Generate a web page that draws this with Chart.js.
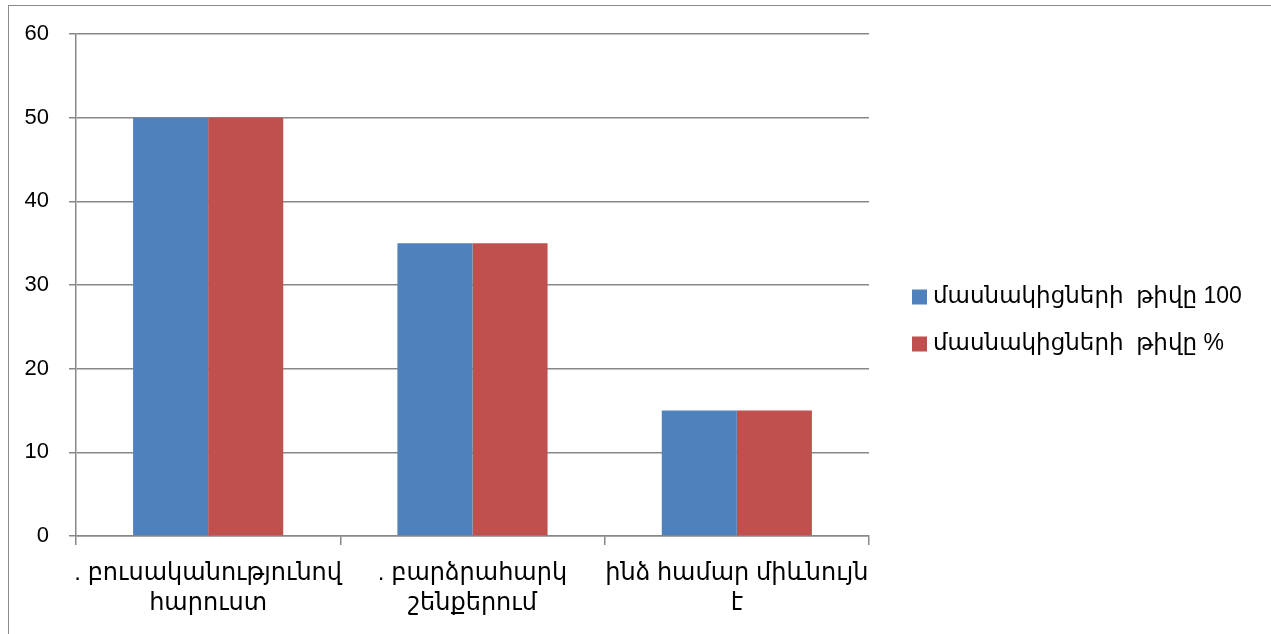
<!DOCTYPE html>
<html>
<head>
<meta charset="utf-8">
<script src="https://cdn.jsdelivr.net/npm/chart.js@4/dist/chart.umd.min.js"></script>
<style>
  html, body { margin: 0; padding: 0; background: #fff; }
  #wrap { position: relative; width: 1271px; height: 634px; overflow: hidden; }
  #frame { position: absolute; left: 8px; top: 5px; width: 1400px; height: 800px;
           border-left: 1.5px solid #8a8a8a; border-top: 1.5px solid #8a8a8a; }
  canvas { position: absolute; left: 0; top: 0; }
</style>
</head>
<body>
<div id="wrap">
  <div id="frame"></div>
  <canvas id="barChart" width="1271" height="634"></canvas>
</div>
<script>
const categories = [
    [". բուսականությունով", "հարուստ"],
    [". բարձրահարկ", "շենքերում"],
    ["ինձ համար միևնույն", "է"]
];
const seriesNames = ["մասնակիցների  թիվը 100", "մասնակիցների  թիվը %"];
const countValues = [50, 35, 15];
const percentValues = [50, 35, 15];
const yTicks = [0, 10, 20, 30, 40, 50, 60];

const fontFamily = '"Liberation Sans", "DejaVu Sans", sans-serif';
const gridColor = '#888888';

// legend drawn by hand so the plot area keeps its place
const sideLegend = {
    id: 'sideLegend',
    afterDraw(chart) {
        const ctx = chart.ctx;
        ctx.save();
        ctx.font = '23px ' + fontFamily;
        ctx.textBaseline = 'middle';
        ctx.textAlign = 'left';
        chart.data.datasets.forEach((ds, i) => {
            const cy = 297 + i * 47;
            ctx.fillStyle = ds.backgroundColor;
            ctx.fillRect(912, cy - 7.5, 15, 15);
            ctx.fillStyle = '#000';
            ctx.fillText(ds.label, 933, cy);
        });
        ctx.restore();
    }
};

const ctx = document.getElementById('barChart').getContext('2d');
new Chart(ctx, {
    type: 'bar',
    data: {
        labels: categories,
        datasets: [
            { label: seriesNames[0], data: countValues, backgroundColor: '#4F81BD' },
            { label: seriesNames[1], data: percentValues, backgroundColor: '#C0504D' }
        ]
    },
    options: {
        responsive: false,
        animation: false,
        events: [],
        layout: { padding: { left: 0, top: 34, right: 402, bottom: 0 } },
        datasets: {
            bar: { categoryPercentage: 0.568, barPercentage: 1.0 }
        },
        plugins: {
            legend: { display: false },
            tooltip: { enabled: false }
        },
        scales: {
            x: {
                afterFit(scale) { scale.height = 98; },
                grid: {
                    offset: true,
                    drawOnChartArea: false,
                    color: gridColor,
                    tickLength: 9,
                    lineWidth: 1.5
                },
                border: { color: gridColor, width: 1.5 },
                ticks: {
                    color: '#000',
                    padding: 13,
                    maxRotation: 0,
                    autoSkip: false,
                    font: { family: fontFamily, size: 24, lineHeight: 1.27 }
                }
            },
            y: {
                min: yTicks[0],
                max: yTicks[yTicks.length - 1],
                afterFit(scale) { scale.width = 76; },
                afterBuildTicks(scale) { scale.ticks = yTicks.map(v => ({ value: v })); },
                grid: { color: gridColor, tickLength: 7, lineWidth: 1.5 },
                border: { color: gridColor, width: 1.5 },
                ticks: {
                    color: '#000',
                    padding: 20,
                    font: { family: fontFamily, size: 22 }
                }
            }
        }
    },
    plugins: [sideLegend]
});
</script>
</body>
</html>
